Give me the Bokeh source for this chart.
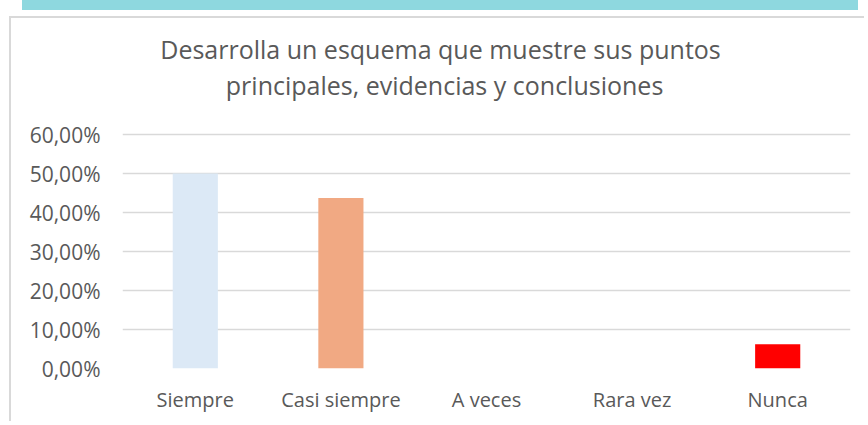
from bokeh.plotting import figure
from bokeh.layouts import column
from bokeh.models import ColumnDataSource, FactorRange, Range1d, Label, CustomJSTickFormatter, FixedTicker, Div
from bokeh.embed import file_html
from bokeh.resources import INLINE

categories = ["Siempre", "Casi siempre", "A veces", "Rara vez", "Nunca"]
values = [0.50, 0.4375, 0.0, 0.0, 0.0625]
colors = ["#DCE9F6", "#F1A983", "#FFFFFF", "#FFFFFF", "#FF0000"]
y_ticks = [0.0, 0.1, 0.2, 0.3, 0.4, 0.5, 0.6]
title_lines = ["Desarrolla un esquema que muestre sus puntos",
               "principales, evidencias y conclusiones"]

FONT = "Open Sans"
GRAY = "#595959"

src = ColumnDataSource(dict(cat=categories, val=values, color=colors))

# frame top is extended above 60% so that the two-line title fits inside it
p = figure(width=855, height=405, output_backend="svg", toolbar_location=None,
           x_range=FactorRange(factors=categories, range_padding=0),
           y_range=Range1d(0, 0.6 + 116 / 390),
           min_border_left=111, min_border_right=16,
           min_border_top=0, min_border_bottom=55,
           margin=(0, 0, 0, 9),
           styles={"border-top": "2px solid #D9D9D9", "border-left": "2px solid #D9D9D9"})

p.vbar(x="cat", top="val", width=0.31, color="color", line_color=None, source=src)

p.outline_line_color = None
p.background_fill_color = "white"
p.border_fill_color = "white"
p.xgrid.grid_line_color = None
p.ygrid.grid_line_color = "#D9D9D9"
p.ygrid.grid_line_width = 1.5

p.yaxis.ticker = FixedTicker(ticks=y_ticks)
p.yaxis.formatter = CustomJSTickFormatter(code="return (tick*100).toFixed(2).replace('.', ',') + '%';")
for ax in (p.xaxis[0], p.yaxis[0]):
    ax.axis_line_color = None
    ax.major_tick_line_color = None
    ax.minor_tick_line_color = None
    ax.major_tick_out = 0
    ax.major_tick_in = 0
    ax.major_label_text_font = FONT
    ax.major_label_text_color = GRAY
    ax.major_label_text_font_size = "20px"
p.yaxis.major_label_text_font_size = "21px"
p.yaxis.major_label_standoff = 22
p.xaxis.major_label_standoff = 17

for txt, xx, yy in zip(title_lines, [2.184, 2.212], [0.819, 0.728]):
    p.add_layout(Label(x=xx, y=yy, text=txt, text_align="center", text_baseline="alphabetic",
                       text_font=FONT, text_font_size="25px", text_color=GRAY))

teal = Div(width=836, height=10, margin=(0, 0, 6, 22),
           styles={"background-color": "#8ED8DF"})

layout = column(teal, p, spacing=0)

open("out.html", "w").write(file_html(layout, INLINE))
